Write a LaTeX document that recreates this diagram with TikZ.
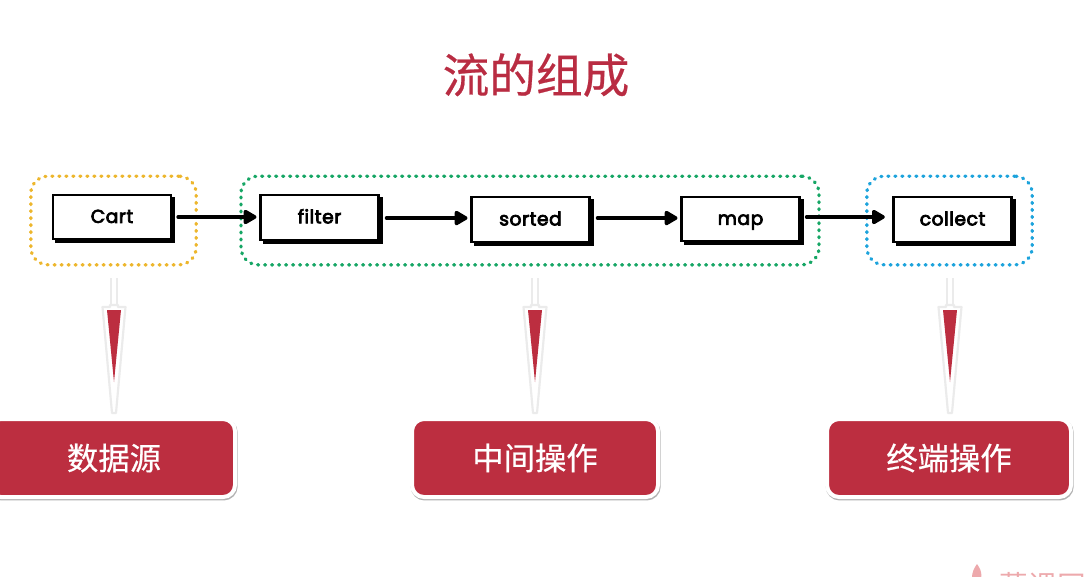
\documentclass[tikz,border=0pt]{standalone}
\usepackage{fontspec}
\setmainfont{Poppins}
\newfontfamily\stagefont[LetterSpace=3,FakeBold=4]{Poppins}
\newfontfamily\cjk[FakeBold=0.5]{Noto Sans CJK SC}
\newfontfamily\cjklight{Noto Sans CJK SC}
\usetikzlibrary{shadows,arrows.meta}
\definecolor{brandred}{HTML}{BC2E40}
\definecolor{titlered}{HTML}{B92C42}
\definecolor{dotyellow}{HTML}{EDB62C}
\definecolor{dotgreen}{HTML}{16A665}
\definecolor{dotblue}{HTML}{1CA3DC}
\definecolor{wedgeline}{HTML}{EBEBEB}
\definecolor{markpink}{HTML}{EDA9AC}
\tikzset{
  x=0.75pt,y=-0.75pt,
  stagebox/.style={draw=black,line width=1.6pt,fill=white,inner sep=0pt,outer sep=0pt,
    minimum width=88.5pt,minimum height=33.5pt,text height=11.3pt,text depth=2.5pt,
    font=\stagefont\fontsize{14pt}{15pt}\selectfont,
    copy shadow={shadow xshift=2.3pt,shadow yshift=-2.3pt,fill=black,draw=black}},
  groupbox/.style={draw=#1,line width=2.5pt,dash pattern=on 0.7pt off 4.55pt,line cap=round,
    rounded corners=13pt,inner sep=0pt,outer sep=0pt},
  labelbox/.style={draw=white,line width=3pt,fill=brandred,rounded corners=9pt,text=white,
    inner sep=0pt,outer sep=0pt,minimum height=58.5pt,font=\cjk\fontsize{23.5pt}{26pt}\selectfont,
    general shadow={draw=black!30,line width=3pt,shadow xshift=0.5pt,shadow yshift=-1.1pt,rounded corners=9pt}},
  flow/.style={line width=2.6pt,line cap=round,-{Triangle[length=11pt,width=12pt,round]}},
  wedgeout/.style={draw=wedgeline,line width=1.6pt,fill=white,line join=round},
  wedgered/.style={fill=brandred,draw=none},
  stem/.style={draw=wedgeline,line width=1.5pt},
}
\newcommand{\pointer}[3]{%
  \coordinate (#3top) at (#1,278);
  \draw[stem] ([xshift=-2.4pt]#3top) -- ++(0,27) ([xshift=2.4pt]#3top) -- ++(0,27);
  \draw[wedgeout] (#1-11.5,307) -- (#1-4,307) -- (#1-4,305) -- (#1+4,305) -- (#1+4,307) -- (#1+11.5,307) -- (#1+2,413) -- (#1-2,413) -- cycle;
  \fill[wedgered] (#1-7,310) -- (#1+7,310) -- (#1,#2) -- cycle;
}
\begin{document}
\begin{tikzpicture}
\clip (0,0) rectangle (1088,576);
\fill[white] (0,0) rectangle (1088,576);

\node[font=\cjk\fontsize{35pt}{40pt}\selectfont,text=titlered] (title) at (536,75) {流的组成};

\node[groupbox=dotyellow,minimum width=124pt,minimum height=66.5pt] (source) at (113.5,220.5) {};
\node[groupbox=dotgreen,minimum width=433.5pt,minimum height=66.5pt] (middle) at (530,220.5) {};
\node[groupbox=dotblue,minimum width=124pt,minimum height=66.5pt] (terminal) at (949.5,220.5) {};

\node[stagebox] (cart) at (112,217) {Cart};
\node[stagebox] (filter) at (319.5,217.5) {filter};
\node[stagebox] (sorted) at (530.5,219.5) {sorted};
\node[stagebox] (map) at (740.5,219) {map};
\node[stagebox] (collect) at (952.5,219.5) {collect};

\draw[flow] ([xshift=5.3pt]cart.east) -- ([xshift=-3pt]filter.west |- cart.east);
\draw[flow] ([xshift=6pt,yshift=-0.4pt]filter.east) -- ([xshift=-3pt,yshift=-0.4pt]sorted.west |- filter.east);
\draw[flow] ([xshift=6pt,yshift=-0.4pt]sorted.east |- filter.east) -- ([xshift=-3pt,yshift=-0.4pt]map.west |- filter.east);
\draw[flow] ([xshift=5.3pt]map.east |- cart.east) -- ([xshift=-6.5pt]collect.west |- cart.east);

\pointer{114}{382}{pa}
\pointer{535}{382}{pb}
\pointer{950}{382}{pc}

\node[labelbox,minimum width=184.5pt] (lsource) at (112,458) {};
\node[font=\cjk\fontsize{23.5pt}{26pt}\selectfont,text=white] (tsource) at (114,458) {数据源};
\node[labelbox,minimum width=184.5pt] (lmiddle) at (535,458) {中间操作};
\node[labelbox,minimum width=183pt] (lterminal) at (949,458) {终端操作};

\fill[markpink] (977,564) .. controls (983,572) and (983,580) .. (976,586) .. controls (970,582) and (971,572) .. (977,564) -- cycle;
\node[anchor=west,font=\cjklight\fontsize{21.5pt}{24pt}\selectfont,text=markpink] (mark) at (995,586) {慕课网};
\end{tikzpicture}
\end{document}
